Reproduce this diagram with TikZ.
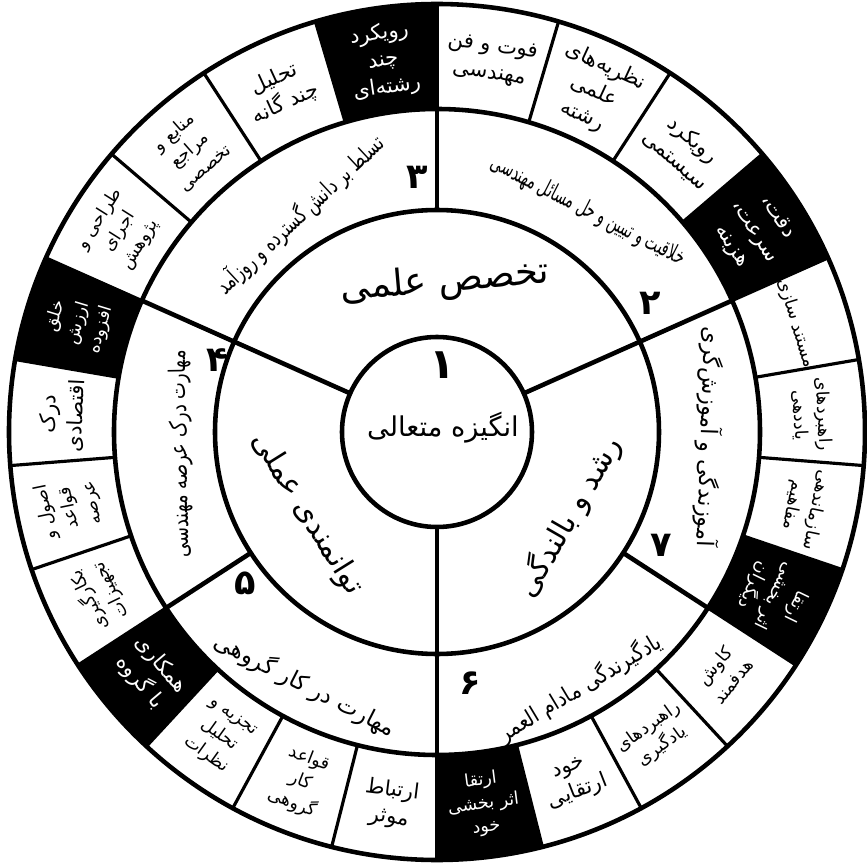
\documentclass[tikz,border=0pt]{standalone}
\usepackage{graphicx}
\usepackage{fontspec}
\newfontfamily\fafont[Script=Arabic]{DejaVu Sans}
\TeXXeTstate=1
\newcommand{\fatext}[1]{\beginR#1\endR}
\definecolor{inkline}{RGB}{0,0,0}
\definecolor{cellfill}{RGB}{0,0,0}
\definecolor{cellink}{RGB}{255,255,255}

\begin{document}
\begin{tikzpicture}[
  x=0.2mm, y=0.2mm,
  ring/.style={draw=inkline, line width=2.6pt},            % circles and spokes
  divider/.style={draw=inkline, line width=1.8pt},         % lines between cells
  dark/.style={fill=cellfill},
  boxtxt/.style={font=\fafont\fontsize{12}{15.5}\selectfont, align=center, inner sep=0pt},
  smalltxt/.style={font=\fafont\fontsize{10}{13.5}\selectfont},
  onblack/.style={text=cellink},
  phrase/.style={font=\fafont\fontsize{13}{15}\selectfont, inner sep=0pt},
  core/.style={font=\fafont\fontsize{17}{20}\selectfont, inner sep=0pt},
  num/.style={font=\fafont\bfseries\fontsize{20}{22}\selectfont, inner sep=0pt},
]
\fill[white] (-437,-432) rectangle (430,432);
\useasboundingbox (-437,-432) rectangle (430,432);

% ---- Black cells (first cell of each sector) ----
\foreach \s/\e in {24/90, 90/156, 156/213, 213/270, 270/327, 327/384}{
  \pgfmathsetmacro{\m}{\s+(\e-\s)/4}
  \fill[dark] (\s:323) arc[start angle=\s, end angle=\m, radius=323]
    -- (\m:428) arc[start angle=\m, end angle=\s, radius=428] -- cycle;
}

% ---- Rings ----
\draw[ring] (0,0) circle[radius=428];
\draw[ring] (0,0) circle[radius=323];
\draw[ring] (0,0) circle[radius=222];
\draw[ring] (0,0) circle[radius=95];

% ---- Spokes ----
\foreach \ang in {24,156,270}
  \draw[ring] (\ang:95) -- (\ang:323);
\foreach \ang in {90,213,327}
  \draw[ring] (\ang:222) -- (\ang:323);

% ---- Cell dividers ----
\foreach \s/\e in {24/90, 90/156, 156/213, 213/270, 270/327, 327/384}{
  \draw[divider] (\s:323) -- (\s:428);
  \foreach \k in {1,2,3}{
    \pgfmathsetmacro{\ang}{\s+\k*(\e-\s)/4}
    \draw[divider] (\ang:323) -- (\ang:428);
  }
}

% ---- Centre and inner ring ----
\node (one)    at (5,67)     [num, font=\fafont\bfseries\fontsize{24}{26}\selectfont] {۱};
\node (motive) at (6,4)      [core, font=\fafont\fontsize{15.5}{18}\selectfont] {\fatext{انگیزه متعالی}};
\node (expert) at (8,150)    [core, font=\fafont\fontsize{21}{24}\selectfont, rotate=5] {\fatext{تخصص علمی}};
\node (growth) at (132,-85)  [core, rotate=60]  {\fatext{رشد و بالندگی}};
\node (skill)  at (-130,-82) [core, rotate=-58] {\fatext{توانمندی عملی}};

% ---- Numbered ring ----
\node (n2) at (213,129)   [num] {۲};
\node (n3) at (-20,255)   [num] {۳};
\node (n4) at (-220,72)   [num] {۴};
\node (n5) at (-192,-151) [num] {۵};
\node (n6) at (33,-251)   [num] {۶};
\node (n7) at (224,-113)  [num] {۷};

\node (p2) at (151,221)   [phrase, rotate=-27] {\resizebox{122pt}{\height}{\fatext{خلاقیت و تبیین و حل مسائل مهندسی}}};
\node (p3) at (-137,217)  [phrase, rotate=43]  {\resizebox{125pt}{\height}{\fatext{تسلط بر دانش گسترده و روزآمد}}};
\node (p4) at (-256,-22)  [phrase, rotate=91]  {\resizebox{118pt}{\height}{\fatext{مهارت درک عرصه مهندسی}}};
\node (p5) at (-132,-253) [phrase, rotate=-27] {\resizebox{114pt}{\height}{\fatext{مهارت در کار گروهی}}};
\node (p6) at (143,-256)  [phrase, rotate=31]  {\resizebox{106pt}{\height}{\fatext{یادگیرندگی مادام العمر}}};
\node (p7) at (272,-5)    [phrase, rotate=-92] {\resizebox{125pt}{\height}{\fatext{آموزندگی و آموزش‌گری}}};

% ---- Outer cells: sector 2 ----
\node (c2a) at (32.25:375) [boxtxt, onblack, rotate=-57.75] {\fatext{دقت،}\\\fatext{سرعت،}\\\fatext{هزینه}};
\node (c2b) at (48.75:375) [boxtxt, rotate=-41.25] {\fatext{رویکرد}\\\fatext{سیستمی}};
\node (c2c) at (65.25:375) [boxtxt, rotate=-24.75] {\fatext{نظریه‌های}\\\fatext{علمی}\\\fatext{رشته}};
\node (c2d) at (81.75:375) [boxtxt, rotate=-8.25]  {\fatext{فوت و فن}\\\fatext{مهندسی}};

% ---- Outer cells: sector 3 ----
\node (c3a) at (98.25:375)  [boxtxt, onblack, rotate=8.25] {\fatext{رویکرد}\\\fatext{چند}\\\fatext{رشته‌ای}};
\node (c3b) at (114.75:375) [boxtxt, rotate=24.75] {\fatext{تحلیل}\\\fatext{چند گانه}};
\node (c3c) at (131.25:375) [boxtxt, smalltxt, rotate=41.25] {\fatext{منابع و}\\\fatext{مراجع}\\\fatext{تخصصی}};
\node (c3d) at (147.75:375) [boxtxt, smalltxt, rotate=57.75] {\fatext{طراحی و}\\\fatext{اجرای}\\\fatext{پژوهش}};

% ---- Outer cells: sector 4 ----
\node (c4a) at (163.125:375) [boxtxt, smalltxt, onblack, rotate=73.125] {\fatext{خلق}\\\fatext{ارزش}\\\fatext{افزوده}};
\node (c4b) at (177.375:375) [boxtxt, rotate=87.375]  {\fatext{درک}\\\fatext{اقتصادی}};
\node (c4c) at (191.625:375) [boxtxt, smalltxt, rotate=101.625] {\fatext{اصول و}\\\fatext{قواعد}\\\fatext{عرصه}};
\node (c4d) at (205.875:375) [boxtxt, smalltxt, rotate=115.875] {\fatext{بکارگیری}\\\fatext{تجهیزات}};

% ---- Outer cells: sector 5 ----
\node (c5a) at (220.125:375) [boxtxt, onblack, rotate=-49.875] {\fatext{همکاری}\\\fatext{با گروه}};
\node (c5b) at (234.375:375) [boxtxt, smalltxt, rotate=-35.625] {\fatext{تجزیه و}\\\fatext{تحلیل}\\\fatext{نظرات}};
\node (c5c) at (248.625:375) [boxtxt, smalltxt, rotate=-21.375] {\fatext{قواعد}\\\fatext{کار}\\\fatext{گروهی}};
\node (c5d) at (262.875:375) [boxtxt, rotate=-7.125]  {\fatext{ارتباط}\\\fatext{موثر}};

% ---- Outer cells: sector 6 ----
\node (c6a) at (277.125:375) [boxtxt, smalltxt, onblack, rotate=7.125] {\fatext{ارتقا}\\\fatext{اثر بخشی}\\\fatext{خود}};
\node (c6b) at (291.375:375) [boxtxt, rotate=21.375] {\fatext{خود}\\\fatext{ارتقایی}};
\node (c6c) at (305.625:375) [boxtxt, smalltxt, rotate=35.625] {\fatext{راهبردهای}\\\fatext{یادگیری}};
\node (c6d) at (319.875:375) [boxtxt, smalltxt, rotate=49.875] {\fatext{کاوش}\\\fatext{هدفمند}};

% ---- Outer cells: sector 7 ----
\node (c7a) at (334.125:375) [boxtxt, smalltxt, onblack, rotate=-115.875] {\fatext{ارتقا}\\\fatext{اثر بخشی}\\\fatext{دیگران}};
\node (c7b) at (348.375:375) [boxtxt, smalltxt, rotate=-101.625] {\fatext{سازماندهی}\\\fatext{مفاهیم}};
\node (c7c) at (2.625:375)   [boxtxt, smalltxt, rotate=-87.375]  {\fatext{راهبردهای}\\\fatext{یاددهی}};
\node (c7d) at (16.875:375)  [boxtxt, smalltxt, rotate=-73.125]  {\fatext{مستند سازی}};

\end{tikzpicture}
\end{document}
